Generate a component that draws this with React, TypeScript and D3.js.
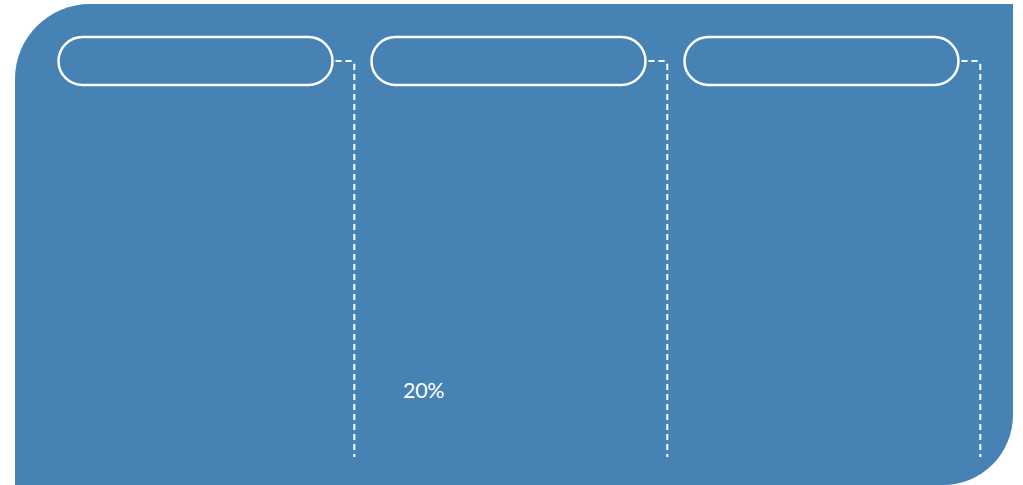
import React from "react";
import * as d3 from "d3";

const panels = ["A", "B", "C"];
const panelLabels = ["", "", ""];
const valueLabels = ["", "20%", ""];

const W = 1023;
const H = 485;

export default function App() {
  const bg = { x0: 15, y0: 4, x1: 1013, y1: 485, rTL: 75, rBR: 70 };
  const bgPath = [
    `M${bg.x0},${bg.y0 + bg.rTL}`,
    `A${bg.rTL},${bg.rTL} 0 0 1 ${bg.x0 + bg.rTL},${bg.y0}`,
    `H${bg.x1}`,
    `V${bg.y1 - bg.rBR}`,
    `A${bg.rBR},${bg.rBR} 0 0 1 ${bg.x1 - bg.rBR},${bg.y1}`,
    `H${bg.x0}`,
    "Z",
  ].join(" ");

  const x = d3.scaleBand<string>().domain(panels).range([58.5, 958.5]).paddingInner(0.1246).paddingOuter(0);
  const bw = x.bandwidth();
  const pillY = 37;
  const pillH = 48;
  const midY = pillY + pillH / 2;
  const lineBottom = 457;
  const gapToLine = 21.8;
  const cornerR = 4;

  return (
    <svg width={W} height={H} style={{ position: "absolute", left: 0, top: 0 }}>
      <path d={bgPath} fill="steelblue" />
      {panels.map((p, i) => {
        const x0 = x(p)!;
        const right = x0 + bw;
        const lx = right + gapToLine;
        const conn = `M${right},${midY} H${lx - cornerR} Q${lx},${midY} ${lx},${midY + cornerR} V${lineBottom}`;
        return (
          <g key={p}>
            <rect x={x0} y={pillY} width={bw} height={pillH} rx={pillH / 2} ry={pillH / 2} fill="none" stroke="white" strokeWidth={2.5} />
            <text x={x0 + bw / 2} y={midY + 6} textAnchor="middle" fill="white" fontFamily="Lato" fontSize={18}>{panelLabels[i]}</text>
            <path d={conn} fill="none" stroke="white" strokeWidth={2} strokeDasharray="6,4" strokeDashoffset={-3} />
            {valueLabels[i] ? (
              <text x={x0 + 31.5} y={398} fill="white" fontFamily="Lato" fontWeight={400} fontSize={21.5} letterSpacing={-0.3}>{valueLabels[i]}</text>
            ) : null}
          </g>
        );
      })}
    </svg>
  );
}
